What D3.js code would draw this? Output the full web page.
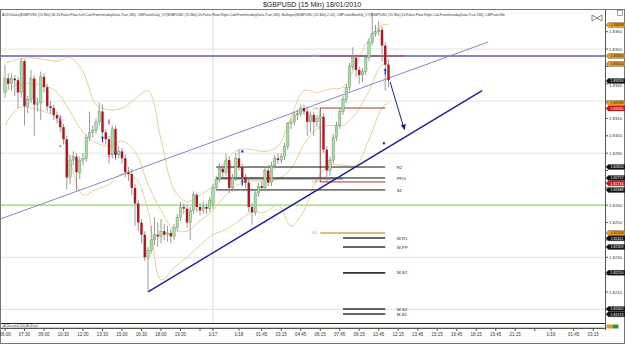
<!DOCTYPE html>
<html>
<head>
<meta charset="utf-8">
<script src="https://cdn.jsdelivr.net/npm/d3@7"></script>
<style>
  body { margin: 0; background: #fff; }
  svg { display: block; font-family: Arial, "Liberation Sans", sans-serif; }
</style>
</head>
<body>
<div id="chart"></div>
<script>
// --- data ---
var barOpen = [
  1.8325,1.8333,1.8330,1.8333,1.8332,1.8325,1.8343,1.8317,1.8321,1.8333,
  1.8318,1.8319,1.8334,1.8328,1.8317,1.8316,1.8312,1.8310,1.8305,1.8298,
  1.8276,1.8286,1.8288,1.8279,1.8286,1.8287,1.8299,1.8302,1.8303,1.8308,
  1.8314,1.8302,1.8298,1.8289,1.8304,1.8289,1.8291,1.8287,1.8279,1.8278,
  1.8270,1.8261,1.8250,1.8243,1.8230,1.8234,1.8240,1.8243,1.8242,1.8245,
  1.8243,1.8244,1.8242,1.8247,1.8253,1.8259,1.8258,1.8250,1.8257,1.8266,
  1.8259,1.8257,1.8259,1.8258,1.8261,1.8270,1.8275,1.8281,1.8279,1.8286,
  1.8270,1.8276,1.8287,1.8282,1.8276,1.8273,1.8259,1.8256,1.8267,1.8271,
  1.8270,1.8280,1.8273,1.8283,1.8287,1.8286,1.8288,1.8294,1.8307,1.8308,
  1.8312,1.8313,1.8316,1.8314,1.8308,1.8312,1.8308,1.8310,1.8311,1.8292,
  1.8280,1.8286,1.8299,1.8306,1.8314,1.8321,1.8328,1.8340,1.8345,1.8338,
  1.8335,1.8337,1.8345,1.8354,1.8359,1.8360,1.8361,1.8352,1.8341
];
var barHigh = [
  1.8341,1.8336,1.8336,1.8335,1.8334,1.8345,1.8344,1.8323,1.8338,1.8335,
  1.8322,1.8337,1.8336,1.8330,1.8320,1.8318,1.8314,1.8312,1.8307,1.8300,
  1.8289,1.8291,1.8290,1.8288,1.8290,1.8301,1.8314,1.8306,1.8310,1.8319,
  1.8318,1.8304,1.8300,1.8306,1.8306,1.8294,1.8293,1.8289,1.8282,1.8281,
  1.8272,1.8263,1.8252,1.8245,1.8236,1.8248,1.8253,1.8250,1.8252,1.8249,
  1.8248,1.8246,1.8249,1.8255,1.8262,1.8261,1.8260,1.8259,1.8268,1.8267,
  1.8261,1.8262,1.8261,1.8265,1.8272,1.8277,1.8284,1.8283,1.8290,1.8288,
  1.8278,1.8290,1.8292,1.8284,1.8278,1.8275,1.8261,1.8269,1.8273,1.8274,
  1.8282,1.8283,1.8285,1.8289,1.8290,1.8290,1.8296,1.8308,1.8310,1.8314,
  1.8315,1.8318,1.8318,1.8317,1.8314,1.8314,1.8312,1.8314,1.8313,1.8294,
  1.8288,1.8301,1.8308,1.8316,1.8323,1.8330,1.8342,1.8351,1.8347,1.8340,
  1.8339,1.8347,1.8356,1.8371,1.8364,1.8366,1.8363,1.8354,1.8344
];
var barLow = [
  1.8322,1.8327,1.8326,1.8323,1.8316,1.8322,1.8306,1.8313,1.8319,1.8300,
  1.8314,1.8309,1.8325,1.8314,1.8313,1.8309,1.8307,1.8302,1.8295,1.8269,
  1.8272,1.8283,1.8268,1.8275,1.8283,1.8285,1.8297,1.8299,1.8301,1.8306,
  1.8300,1.8295,1.8284,1.8287,1.8286,1.8287,1.8284,1.8276,1.8274,1.8266,
  1.8248,1.8245,1.8238,1.8228,1.8210,1.8232,1.8237,1.8236,1.8238,1.8240,
  1.8239,1.8238,1.8240,1.8245,1.8251,1.8255,1.8247,1.8240,1.8255,1.8256,
  1.8254,1.8255,1.8255,1.8256,1.8258,1.8268,1.8273,1.8276,1.8277,1.8267,
  1.8268,1.8274,1.8280,1.8274,1.8270,1.8256,1.8249,1.8254,1.8265,1.8268,
  1.8268,1.8271,1.8271,1.8281,1.8284,1.8284,1.8286,1.8292,1.8304,1.8306,
  1.8309,1.8311,1.8312,1.8300,1.8302,1.8300,1.8305,1.8303,1.8290,1.8273,
  1.8277,1.8284,1.8297,1.8304,1.8312,1.8319,1.8326,1.8338,1.8334,1.8330,
  1.8331,1.8335,1.8343,1.8352,1.8357,1.8358,1.8343,1.8326,1.8328
];
var barClose = [
  1.8333,1.8330,1.8333,1.8332,1.8325,1.8343,1.8317,1.8321,1.8333,1.8318,
  1.8319,1.8334,1.8328,1.8317,1.8316,1.8312,1.8310,1.8305,1.8298,1.8276,
  1.8286,1.8288,1.8279,1.8286,1.8287,1.8299,1.8302,1.8303,1.8308,1.8314,
  1.8302,1.8298,1.8289,1.8304,1.8289,1.8291,1.8287,1.8279,1.8278,1.8270,
  1.8261,1.8250,1.8243,1.8230,1.8234,1.8240,1.8243,1.8242,1.8245,1.8243,
  1.8244,1.8242,1.8247,1.8253,1.8259,1.8258,1.8250,1.8257,1.8266,1.8259,
  1.8257,1.8259,1.8258,1.8263,1.8270,1.8275,1.8281,1.8279,1.8286,1.8270,
  1.8276,1.8287,1.8282,1.8276,1.8273,1.8259,1.8256,1.8267,1.8271,1.8270,
  1.8280,1.8273,1.8283,1.8287,1.8286,1.8288,1.8294,1.8307,1.8308,1.8312,
  1.8313,1.8316,1.8314,1.8308,1.8312,1.8308,1.8310,1.8311,1.8292,1.8280,
  1.8286,1.8299,1.8306,1.8314,1.8321,1.8328,1.8340,1.8345,1.8338,1.8335,
  1.8337,1.8345,1.8354,1.8359,1.8360,1.8361,1.8352,1.8341,1.8332
];

// Bollinger(2,14) read at every 4th bar
var bandBars  = [0,4,8,12,16,20,24,28,32,36,40,44,48,52,56,60,64,68,72,76,80,84,88,92,96,100,104,108,112,116,118];
var bandUpper = [1.8342,1.8344,1.8345,1.8344,1.8343,1.8345,1.8337,1.8318,1.8315,1.8316,1.8321,1.8326,1.8298,1.8269,1.8262,1.8266,
                 1.8271,1.8286,1.8292,1.8292,1.8291,1.8294,1.8311,1.8326,1.8325,1.8327,1.8328,1.8341,1.8356,1.8364,1.8364];
var bandMid   = [1.8325,1.8330,1.8330,1.8329,1.8325,1.8314,1.8302,1.8296,1.8294,1.8297,1.8291,1.8272,1.8257,1.8246,1.8245,1.8251,
                 1.8257,1.8266,1.8272,1.8274,1.8274,1.8275,1.8281,1.8295,1.8304,1.8306,1.8306,1.8313,1.8326,1.8341,1.8341];
var bandLower = [1.8306,1.8316,1.8316,1.8314,1.8310,1.8286,1.8266,1.8269,1.8272,1.8278,1.8276,1.8257,1.8217,1.8224,1.8230,1.8237,
                 1.8243,1.8246,1.8251,1.8256,1.8256,1.8260,1.8248,1.8257,1.8275,1.8283,1.8283,1.8283,1.8298,1.8316,1.8319];

// time axis (bar index of each tick)
var timeTickBars = [0,6,12,18,24,30,36,42,48,54,60,64,72,79,85,91,97,103,109,115,121,127,133,139,145,151,157,163,168,175,181];
var timeTickText = ["06:00","07:30","09:00","10:30","12:00","13:30","15:00","16:30","18:00","19:30","","1/17","1/18",
                    "01:45","03:15","04:45","06:15","07:45","09:15","10:45","12:15","13:45","15:15","16:45","18:15",
                    "19:45","21:15","","1/19","01:45","03:15"];

// price ticks; only the labels not hidden under a tag are printed
var priceTicks  = [1.8200,1.8210,1.8220,1.8230,1.8240,1.8250,1.8260,1.8270,1.8280,1.8290,1.8300,1.8310,1.8320,1.8330,1.8340,1.8350,1.8360];
var priceLabels = [1.8210,1.8230,1.8250,1.8260,1.8290,1.8300,1.8310,1.8330,1.8350,1.8360];
var gridPrices  = [1.8200,1.8230,1.8260,1.8290,1.8320,1.8350];

// daily pivots
var dailyNames  = ["R2","PPr1","S2"];
var dailyPrices = [1.8282,1.82757,1.82688];
// weekly / monthly pivots
var weeklyNames  = ["W-R1","W-PP","W-S1","W-S2","M-S1"];
var weeklyPrices = [1.82411,1.82359,1.82210,1.82002,1.81973];
// ACD levels
var acdUp = 1.8346, acdDown = 1.8244, orHigh = 1.8316, orLow = 1.82734;
var userLevel = 1.8346;   // thick blue horizontal
var greenLevel = 1.8260;  // green horizontal

// trend lines [bar, price]
var upperTrend = [[-1.5, 1.8252], [148.6, 1.8354]];
var lowerTrend = [[44, 1.8210], [146.8, 1.8326]];
var arrowLine  = [[118.5, 1.8331], [122.8, 1.8304]];

// right-axis price tags
var tagPrices = [1.83638,1.83460,1.83414,1.83316,1.83189,1.83160,1.82820,1.82757,1.82734,1.82688,1.82440,1.82411,1.82359,1.82210,1.82002,1.81973];
var tagKinds  = ["o","o","o","k","o","r","k","k","r","k","o","k","k","k","k","k"];

// signal markers [bar, price]
var pinkBars   = [[17, 1.8310], [32, 1.8308]];
var pinkDots   = [[17, 1.8294], [32, 1.8288]];
var blueArrows = [[30, 1.8298], [34, 1.8289], [73, 1.8273], [117, 1.8337]];
var blueDots   = [[73, 1.8291]];

var headerText = "ACDValues($GBPUSD (15 Min),30,10,False,Floor,Left,CalcFromIntradayData,True,180), CMPivotsDaily_V7($GBPUSD (15 Min),10,False,Floor,Right,CalcFromIntradayData,True,180), Bollinger($GBPUSD (15 Min),2,14), CMPivotsMonthly_V7($GBPUSD (15 Min),10,False,Floor,Right,CalcFromIntradayData,True,180), CMPivotsWe";

// --- drawing ---
var W = 625, H = 345;
var plot = { left: 1, right: 605, top: 10, bottom: 322 };

var svg = d3.select("#chart").append("svg").attr("width", W).attr("height", H);

var xScale = d3.scaleLinear().domain([0, 184]).range([5, 603]);
var yScale = d3.scaleLinear().domain([1.8200, 1.8360]).range([309.3, 31.7]);

svg.append("defs").append("clipPath").attr("id", "plotClip")
  .append("rect").attr("x", plot.left).attr("y", plot.top)
  .attr("width", plot.right - plot.left).attr("height", plot.bottom - plot.top);

// title
svg.append("text").attr("x", 312).attr("y", 6.5).attr("text-anchor", "middle")
  .attr("font-size", 7).attr("fill", "#222").text("$GBPUSD (15 Min)  18/01/2010");

// outer frame
svg.append("rect").attr("x", 0.5).attr("y", 9.5).attr("width", 624).attr("height", 334)
  .attr("fill", "none").attr("stroke", "#777");

var g = svg.append("g").attr("clip-path", "url(#plotClip)");

// grid
g.selectAll(".grid").data(gridPrices).enter().append("line")
  .attr("x1", plot.left).attr("x2", plot.right)
  .attr("y1", d => yScale(d)).attr("y2", d => yScale(d))
  .attr("stroke", "#e2e2e2").attr("stroke-width", 1);

// day separator
g.append("line").attr("x1", xScale(64)).attr("x2", xScale(64))
  .attr("y1", plot.top).attr("y2", plot.bottom).attr("stroke", "#dcdcdc");

// green level
g.append("line").attr("x1", plot.left).attr("x2", plot.right)
  .attr("y1", yScale(greenLevel)).attr("y2", yScale(greenLevel))
  .attr("stroke", "#9be05a").attr("stroke-width", 1.3);

// bollinger bands
var bandLine = function (vals) {
  return d3.line().x((d, i) => xScale(bandBars[i])).y(d => yScale(d)).curve(d3.curveCatmullRom)(vals);
};
[bandUpper, bandMid, bandLower].forEach(function (vals) {
  g.append("path").attr("d", bandLine(vals)).attr("fill", "none")
    .attr("stroke", "#e6c98c").attr("stroke-width", 0.9);
});

// thick blue user level
g.append("line").attr("x1", plot.left).attr("x2", plot.right)
  .attr("y1", yScale(userLevel)).attr("y2", yScale(userLevel))
  .attr("stroke", "#8585c8").attr("stroke-width", 2);

// ACD up line
g.append("line").attr("x1", xScale(97)).attr("x2", xScale(123))
  .attr("y1", yScale(acdUp)).attr("y2", yScale(acdUp))
  .attr("stroke", "#b04848").attr("stroke-width", 1);

// opening range box
var orX1 = xScale(97), orX2 = xScale(117);
g.append("path")
  .attr("d", `M${orX2},${yScale(orHigh)}H${orX1}V${yScale(orLow)}H${orX2}`)
  .attr("fill", "none").attr("stroke", "#b03030").attr("stroke-width", 1);

// ACD down line
g.append("line").attr("x1", xScale(97)).attr("x2", xScale(117))
  .attr("y1", yScale(acdDown)).attr("y2", yScale(acdDown))
  .attr("stroke", "#d9a05a").attr("stroke-width", 1.5);

// daily pivots
g.append("line").attr("x1", xScale(65)).attr("x2", xScale(104))
  .attr("y1", yScale(dailyPrices[1]) + 0.8).attr("y2", yScale(dailyPrices[1]) + 0.8)
  .attr("stroke", "#a8a8a8").attr("stroke-width", 2);
g.selectAll(".dp").data(dailyPrices).enter().append("line")
  .attr("x1", xScale(65)).attr("x2", xScale(117))
  .attr("y1", d => yScale(d)).attr("y2", d => yScale(d))
  .attr("stroke", "#111").attr("stroke-width", 1);

// weekly pivots
g.selectAll(".wp").data(weeklyPrices).enter().append("line")
  .attr("x1", xScale(104)).attr("x2", xScale(117))
  .attr("y1", d => yScale(d)).attr("y2", d => yScale(d))
  .attr("stroke", "#333").attr("stroke-width", 1.6);

// trend lines
var tl = d3.line().x(d => xScale(d[0])).y(d => yScale(d[1]));
g.append("path").attr("d", tl(upperTrend)).attr("stroke", "#7a7ab8").attr("stroke-width", 0.9).attr("fill", "none");
g.append("path").attr("d", tl(lowerTrend)).attr("stroke", "#1e1e96").attr("stroke-width", 1.4).attr("fill", "none");

// candles
var bars = barClose.map((c, i) => ({ i: i, o: barOpen[i], h: barHigh[i], l: barLow[i], c: c }));
g.selectAll(".wick").data(bars).enter().append("line")
  .attr("x1", d => xScale(d.i)).attr("x2", d => xScale(d.i))
  .attr("y1", d => yScale(d.h)).attr("y2", d => yScale(d.l))
  .attr("stroke", "#8e8e8e").attr("stroke-width", 0.9);
g.selectAll(".body").data(bars).enter().append("rect")
  .attr("x", d => xScale(d.i) - 1.2).attr("width", 2.4)
  .attr("y", d => yScale(Math.max(d.o, d.c)))
  .attr("height", d => Math.max(0.8, Math.abs(yScale(d.o) - yScale(d.c))))
  .attr("fill", d => d.c >= d.o ? "#a3dca0" : "#b8131c")
  .attr("stroke", d => d.c >= d.o ? "#5f945d" : "none").attr("stroke-width", 0.4);

// arrow
g.append("path").attr("d", tl(arrowLine)).attr("stroke", "#1e1e96").attr("stroke-width", 1).attr("fill", "none");
var ax = xScale(arrowLine[1][0]), ay = yScale(arrowLine[1][1]);
g.append("path").attr("d", `M${ax - 3.2},${ay - 3.5}L${ax + 1.6},${ay - 4.8}L${ax + 0.6},${ay + 1.5}Z`).attr("fill", "#1e1e96");

// small arrow mark on lower trend line
var mx = xScale(116.6), my = yScale(1.8296);
g.append("path").attr("d", `M${mx - 1.5},${my + 1.5}L${mx},${my - 1.5}L${mx + 1.5},${my + 1.5}Z`).attr("fill", "#1e1e96");

// markers
g.selectAll(".pb").data(pinkBars).enter().append("rect")
  .attr("x", d => xScale(d[0]) - 0.7).attr("y", d => yScale(d[1]) - 2.5)
  .attr("width", 1.4).attr("height", 5).attr("fill", "#e040d0");
g.selectAll(".pd").data(pinkDots).enter().append("circle")
  .attr("cx", d => xScale(d[0])).attr("cy", d => yScale(d[1])).attr("r", 0.9).attr("fill", "#e040d0");
g.selectAll(".ba").data(blueArrows).enter().append("path")
  .attr("d", function (d) {
    var x = xScale(d[0]), y = yScale(d[1]);
    return `M${x - 1.6},${y - 1}L${x},${y - 3.5}L${x + 1.6},${y - 1}H${x + 0.6}V${y + 3}H${x - 0.6}V${y - 1}Z`;
  }).attr("fill", "#1f3fb0");
g.selectAll(".bd").data(blueDots).enter().append("rect")
  .attr("x", d => xScale(d[0]) - 1.2).attr("y", d => yScale(d[1]) - 1.2)
  .attr("width", 2.4).attr("height", 2.4).attr("fill", "#3d55c4");

// small level tags inside plot
var tagTxt = [["AU", acdUp, "#d8a0a0"], ["OR", orHigh, "#d89090"], ["OR", orLow, "#d89090"], ["AD", acdDown, "#e0b880"]];
g.selectAll(".lt").data(tagTxt).enter().append("text")
  .attr("x", xScale(94.5)).attr("y", d => yScale(d[1]) + 1.5)
  .attr("font-size", 4.2).attr("fill", d => d[2]).text(d => d[0]);

var pivLabels = dailyNames.map((n, i) => [n, dailyPrices[i]]).concat(weeklyNames.map((n, i) => [n, weeklyPrices[i]]));
g.selectAll(".pl").data(pivLabels).enter().append("text")
  .attr("x", xScale(120.5)).attr("y", (d, i) => yScale(d[1]) + 1.6 + (i === 1 ? 0.6 : 0) + (i === 2 ? 0.3 : 0))
  .attr("font-size", 4.3).attr("fill", "#222").text(d => d[0]);

// header text
svg.append("text").attr("x", 2).attr("y", 16.3).attr("font-size", 3.9).attr("fill", "#333")
  .attr("textLength", 503).attr("lengthAdjust", "spacingAndGlyphs").text(headerText);

// top-right icons
svg.append("path").attr("d", "M592,15L602,21M592,21L602,15M592,15V21M602,15V21").attr("stroke", "#555").attr("stroke-width", 0.7).attr("fill", "none");
svg.append("rect").attr("x", 617.5).attr("y", 10.5).attr("width", 5).attr("height", 5).attr("fill", "#fff").attr("stroke", "#666").attr("stroke-width", 0.6);

// price tags, stacked so they do not sit on top of each other
var tagColor = { o: "#e89a28", k: "#111", r: "#d41414" };
var tagText = { o: "#222", k: "#fff", r: "#fff" };
var tagData = tagPrices.map((p, i) => ({ p: p, k: tagKinds[i], y: yScale(p) }))
  .sort((a, b) => a.y - b.y);
tagData.forEach(function (t, i) {
  if (i > 0 && t.y < tagData[i - 1].y + 5.4) t.y = tagData[i - 1].y + 5.4;
});

// right price axis
svg.append("line").attr("x1", 605.5).attr("x2", 605.5).attr("y1", 10).attr("y2", 330).attr("stroke", "#555");
var ya = svg.append("g");
ya.selectAll(".pt").data(priceTicks).enter().append("line")
  .attr("x1", 605.5).attr("x2", 608).attr("y1", d => yScale(d)).attr("y2", d => yScale(d)).attr("stroke", "#555");
// a label just under a tag slides down a little so the two stay readable
var labelY = function (p) {
  var y = yScale(p) + 1.6;
  tagData.forEach(function (t) {
    if (t.y < yScale(p) && t.y > yScale(p) - 6) y = Math.max(y, t.y + 2.6 + 3.9);
  });
  return y;
};
ya.selectAll(".ptl").data(priceLabels).enter().append("text")
  .attr("x", 609).attr("y", d => labelY(d)).attr("font-size", 4.3).attr("fill", "#333")
  .text(d => d.toFixed(4));

var tags = svg.append("g").selectAll("g").data(tagData).enter().append("g")
  .attr("transform", d => `translate(606,${d.y})`);
tags.append("path").attr("d", "M0,0L2.3,-2.5H19V2.5H2.3Z")
  .attr("fill", d => tagColor[d.k]).attr("stroke", "#333").attr("stroke-width", 0.3);
tags.append("text").attr("x", 11).attr("y", 1.2).attr("text-anchor", "middle").attr("font-size", 3.6)
  .attr("fill", d => tagText[d.k]).text(d => d.p.toFixed(5));

// indicator strip
svg.append("line").attr("x1", 1).attr("x2", 605).attr("y1", 323.5).attr("y2", 323.5).attr("stroke", "#222");
svg.append("line").attr("x1", 1).attr("x2", 605).attr("y1", 327.3).attr("y2", 327.3).attr("stroke", "#c9b56a").attr("stroke-width", 0.8);
svg.append("line").attr("x1", 1).attr("x2", 605).attr("y1", 328.5).attr("y2", 328.5).attr("stroke", "#555");
svg.append("text").attr("x", 3).attr("y", 326.6).attr("font-size", 3.3).attr("fill", "#444").text("ACDcumul  (10)   ACDval");
svg.append("rect").attr("x", 606.5).attr("y", 324.5).attr("width", 6).attr("height", 4).attr("fill", "#e89a28");
svg.append("rect").attr("x", 612.5).attr("y", 324.5).attr("width", 6).attr("height", 4).attr("fill", "#2c9a2c");

// time axis
var xa = svg.append("g");
xa.selectAll(".tt").data(timeTickBars).enter().append("line")
  .attr("x1", d => xScale(d)).attr("x2", d => xScale(d)).attr("y1", 328.5).attr("y2", 331).attr("stroke", "#555");
xa.selectAll(".ttl").data(timeTickBars).enter().append("text")
  .attr("x", d => xScale(d)).attr("y", 335.8).attr("text-anchor", "middle")
  .attr("font-size", 4.5).attr("fill", "#333").text((d, i) => timeTickText[i]);
</script>
</body>
</html>
